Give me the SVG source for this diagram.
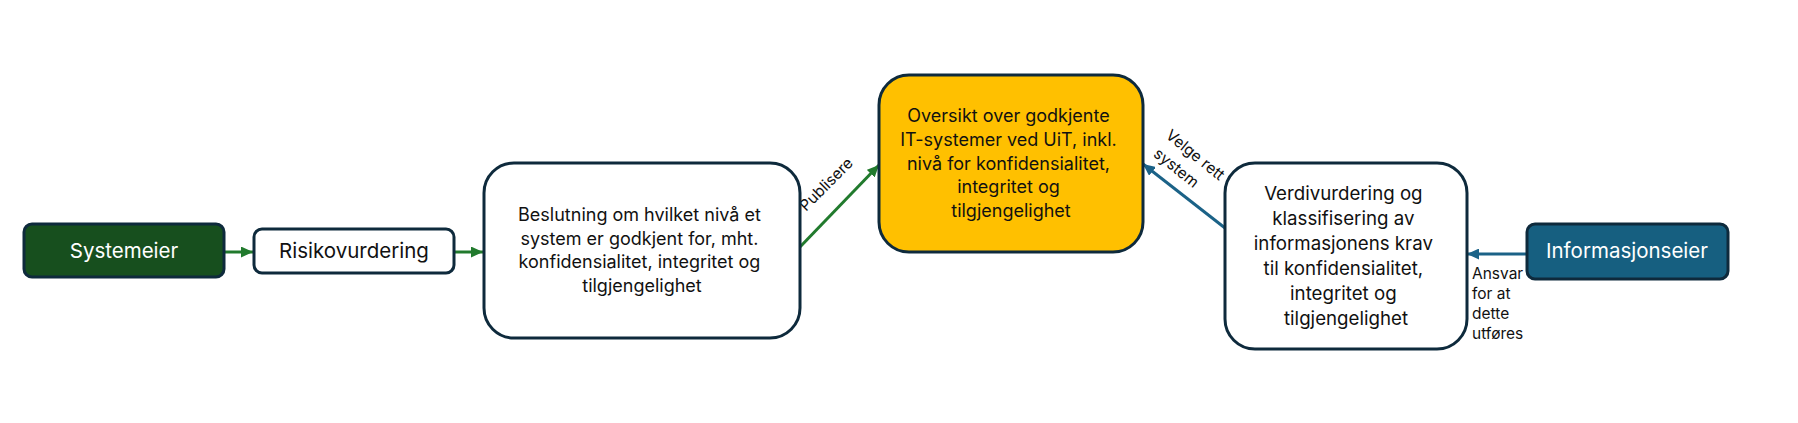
<svg xmlns="http://www.w3.org/2000/svg" width="1798" height="423" viewBox="0 0 1798 423">
<style>
  .box { stroke: #0e2a3c; stroke-width: 3; }
  .white { fill: #ffffff; }
  .t { font-family: Inter, "Liberation Sans", Arial, sans-serif; fill: #111111; text-anchor: middle; }
  .lbl { font-size: 20.5px; }
  .body { font-size: 18px; }
  .small { font-family: Inter, "Liberation Sans", Arial, sans-serif; fill: #111111; font-size: 15.5px; }
  .green { stroke: #217a2d; stroke-width: 3; fill: none; }
  .blue { stroke: #1b6287; stroke-width: 3; fill: none; }
</style>
<defs>
  <marker id="ag" markerUnits="userSpaceOnUse" markerWidth="12" markerHeight="11" refX="12" refY="5.5" orient="auto">
    <path d="M0,0 L12,5.5 L0,11 z" fill="#217a2d"/>
  </marker>
  <marker id="ab" markerUnits="userSpaceOnUse" markerWidth="12" markerHeight="11" refX="12" refY="5.5" orient="auto">
    <path d="M0,0 L12,5.5 L0,11 z" fill="#1b6287"/>
  </marker>
</defs>
<rect width="1798" height="423" fill="#ffffff"/>

<g id="connectors">
  <line class="green" x1="224" y1="252" x2="253" y2="252" marker-end="url(#ag)"/>
  <line class="green" x1="454" y1="252" x2="483" y2="252" marker-end="url(#ag)"/>
  <line class="green" x1="799" y1="248" x2="879" y2="165" marker-end="url(#ag)"/>
  <line class="blue" x1="1225" y1="228" x2="1143" y2="164" marker-end="url(#ab)"/>
  <line class="blue" x1="1527" y1="254" x2="1467" y2="254" marker-end="url(#ab)"/>
  <text class="small" text-anchor="middle" transform="translate(830,188) rotate(-45)">Publisere</text>
  <text class="small" text-anchor="middle" transform="translate(1192,159) rotate(39)">Velge rett</text>
  <text class="small" text-anchor="middle" transform="translate(1173,172) rotate(39)">system</text>
  <text class="small">
    <tspan x="1472" y="279">Ansvar</tspan>
    <tspan x="1472" y="299">for at</tspan>
    <tspan x="1472" y="319">dette</tspan>
    <tspan x="1472" y="339">utføres</tspan>
  </text>
</g>

<g id="systemeier">
  <rect class="box" x="24" y="224" width="200" height="53" rx="8" fill="#174f1e"/>
  <text class="t lbl" x="124" y="258" style="fill:#ffffff">Systemeier</text>
</g>

<g id="risikovurdering">
  <rect class="box white" x="254" y="229" width="200" height="44" rx="8"/>
  <text class="t lbl" x="354" y="258">Risikovurdering</text>
</g>

<g id="beslutning">
  <rect class="box white" x="484" y="163" width="316" height="175" rx="30"/>
  <text class="t body">
    <tspan x="642" y="221">Beslutning om hvilket nivå et</tspan>
    <tspan x="642" y="244.5">system er godkjent for, mht.</tspan>
    <tspan x="642" y="268">konfidensialitet, integritet og</tspan>
    <tspan x="642" y="291.5">tilgjengelighet</tspan>
  </text>
</g>

<g id="oversikt">
  <rect class="box" x="879" y="75" width="264" height="177" rx="30" fill="#ffc000"/>
  <text class="t" font-size="18">
    <tspan x="1011" y="122">Oversikt over godkjente</tspan>
    <tspan x="1011" y="146">IT-systemer ved UiT, inkl.</tspan>
    <tspan x="1011" y="170">nivå for konfidensialitet,</tspan>
    <tspan x="1011" y="193">integritet og</tspan>
    <tspan x="1011" y="217">tilgjengelighet</tspan>
  </text>
</g>

<g id="verdivurdering">
  <rect class="box white" x="1225" y="163" width="242" height="186" rx="30"/>
  <text class="t" font-size="18.7">
    <tspan x="1346" y="200">Verdivurdering og</tspan>
    <tspan x="1346" y="225">klassifisering av</tspan>
    <tspan x="1346" y="250">informasjonens krav</tspan>
    <tspan x="1346" y="275">til konfidensialitet,</tspan>
    <tspan x="1346" y="300">integritet og</tspan>
    <tspan x="1346" y="325">tilgjengelighet</tspan>
  </text>
</g>

<g id="informasjonseier">
  <rect class="box" x="1527" y="224" width="201" height="55" rx="8" fill="#165f80"/>
  <text class="t lbl" x="1627" y="258" style="fill:#ffffff">Informasjonseier</text>
</g>
</svg>
